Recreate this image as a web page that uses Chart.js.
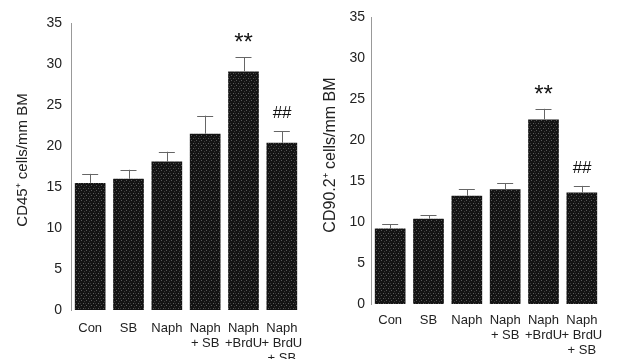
<!DOCTYPE html>
<html>
<head>
<meta charset="utf-8">
<script src="https://cdn.jsdelivr.net/npm/chart.js@4"></script>
<style>
html, body { margin: 0; padding: 0; background: #fff; }
body { width: 631px; height: 359px; position: relative; overflow: hidden; }
.box { position: absolute; top: 0; height: 359px; }
#left { left: 0; width: 315px; }
#right { left: 315px; width: 316px; }
</style>
</head>
<body>
<div class="box" id="left"><canvas id="cd45"></canvas></div>
<div class="box" id="right"><canvas id="cd90"></canvas></div>
<script>
"use strict";

// data
const groups = [["Con"], ["SB"], ["Naph"], ["Naph", "+ SB"], ["Naph", "+BrdU"], ["Naph", "+ BrdU", "+ SB"]];
const yTicks = [0, 5, 10, 15, 20, 25, 30, 35];

const cd45Means = [15.5, 16.0, 18.1, 21.5, 29.1, 20.4];
const cd45Upper = [16.6, 17.1, 19.3, 23.7, 30.8, 21.8];
const cd45Marks = ["", "", "", "", "**", "##"];

const cd90Means = [9.2, 10.4, 13.2, 14.0, 22.5, 13.6];
const cd90Upper = [9.7, 10.8, 14.0, 14.7, 23.8, 14.4];
const cd90Marks = ["", "", "", "", "**", "##"];

const FONT = "'Liberation Sans', Arial, sans-serif";

// speckled fill like the printed bars
function speckle() {
  const c = document.createElement("canvas");
  c.width = 5;
  c.height = 5;
  const g = c.getContext("2d");
  g.fillStyle = "#141414";
  g.fillRect(0, 0, 5, 5);
  g.fillStyle = "#5c5c5c";
  g.fillRect(1, 0, 1, 1);
  g.fillRect(3, 3, 1, 1);
  g.fillStyle = "#3a3a3a";
  g.fillRect(4, 1, 1, 1);
  g.fillRect(0, 3, 1, 1);
  return g.createPattern(c, "repeat");
}

// error bars, significance marks and the rotated y title
const errorPlugin = {
  id: "errs",
  afterDatasetsDraw(chart, args, opts) {
    const ctx = chart.ctx;
    const y = chart.scales.y;
    const meta = chart.getDatasetMeta(0);
    ctx.save();
    meta.data.forEach((bar, i) => {
      const top = y.getPixelForValue(opts.upper[i]);
      ctx.strokeStyle = "#666";
      ctx.lineWidth = 1;
      ctx.beginPath();
      ctx.moveTo(Math.round(bar.x) + 0.5, bar.y);
      ctx.lineTo(Math.round(bar.x) + 0.5, top);
      ctx.moveTo(bar.x - 8, Math.round(top) + 0.5);
      ctx.lineTo(bar.x + 8, Math.round(top) + 0.5);
      ctx.stroke();
      const m = opts.marks[i];
      if (m === "**") {
        ctx.fillStyle = "#111";
        ctx.textAlign = "center";
        ctx.textBaseline = "alphabetic";
        ctx.font = "24px " + FONT;
        ctx.fillText(m, bar.x, top - 7);
      } else if (m) {
        ctx.fillStyle = "#111";
        ctx.textAlign = "center";
        ctx.textBaseline = "middle";
        ctx.font = "italic 17px " + FONT;
        ctx.fillText(m, bar.x, top - 18);
      }
    });
    // y title
    ctx.translate(opts.titleX, opts.titleY);
    ctx.rotate(-Math.PI / 2);
    ctx.fillStyle = "#222";
    ctx.textAlign = "center";
    ctx.textBaseline = "middle";
    ctx.font = opts.titleSize + "px " + FONT;
    ctx.fillText(opts.title, 0, 0);
    ctx.restore();
  }
};

function makeChart(id, values, upper, marks, title, geo) {
  new Chart(document.getElementById(id), {
    type: "bar",
    data: {
      labels: groups,
      datasets: [{
        data: values,
        backgroundColor: speckle(),
        borderWidth: 0,
        categoryPercentage: 1,
        barPercentage: 0.8
      }]
    },
    options: {
      responsive: true,
      maintainAspectRatio: false,
      animation: false,
      layout: { padding: { left: 0, right: geo.right, top: geo.top, bottom: 0 } },
      plugins: {
        legend: { display: false },
        tooltip: { enabled: false },
        errs: {
          upper: upper, marks: marks, title: title,
          titleX: geo.titleX, titleY: geo.titleY, titleSize: geo.titleSize
        }
      },
      scales: {
        x: {
          grid: { display: false, drawTicks: false },
          border: { display: false },
          ticks: {
            color: "#222",
            font: { family: FONT, size: 13, lineHeight: 1.15 },
            padding: geo.xPad,
            maxRotation: 0,
            autoSkip: false
          },
          afterFit(s) { s.height = geo.xHeight; }
        },
        y: {
          min: 0,
          max: 35,
          afterBuildTicks(s) { s.ticks = yTicks.map((v) => ({ value: v })); },
          grid: { display: false, drawTicks: false },
          border: { display: true, color: "#999", width: 1, dash: [1, 1] },
          ticks: {
            color: "#222",
            font: { family: FONT, size: 14 },
            padding: geo.yPad
          },
          afterFit(s) { s.width = geo.yWidth; }
        }
      }
    },
    plugins: [errorPlugin]
  });
}

makeChart("cd45", cd45Means, cd45Upper, cd45Marks, "CD45\u207A cells/mm BM",
  { right: 14, top: 23, xHeight: 49, yWidth: 71, xPad: 11, yPad: 9,
    titleX: 23, titleY: 160, titleSize: 15 });

makeChart("cd90", cd90Means, cd90Upper, cd90Marks, "CD90.2\u207A cells/mm BM",
  { right: 30, top: 17, xHeight: 55, yWidth: 56, xPad: 9, yPad: 6,
    titleX: 16, titleY: 155, titleSize: 16 });
</script>
</body>
</html>
